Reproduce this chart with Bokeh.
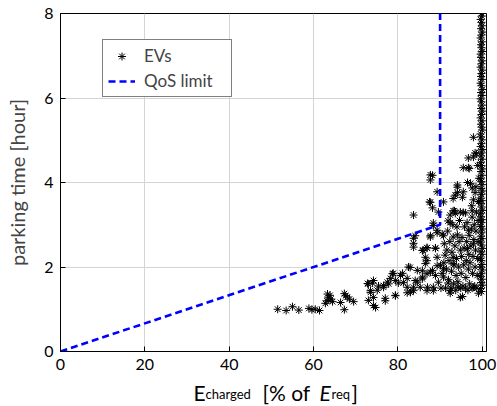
from bokeh.plotting import figure
from bokeh.layouts import column
from bokeh.models import Legend, LegendItem, FixedTicker, Range1d
from bokeh.core.properties import value
from bokeh.embed import file_html
from bokeh.resources import INLINE

# ---- data ----
ev_charged = [
    51.5, 53.5, 55.0, 56.5, 58.9, 59.6, 60.4, 61.4, 62.8, 63.2, 63.5, 63.9, 63.3, 64.1, 64.5,
    66.4, 67.3, 67.6, 68.0, 68.5, 67.3, 69.5,
    72.8, 73.0, 73.0, 73.5, 73.5, 74.0, 74.2, 74.2, 74.2, 74.7, 75.1, 75.4, 76.6, 76.6, 77.0,
    77.0, 77.5, 77.8, 78.2, 78.7, 78.9, 79.4, 79.4, 79.4, 80.1, 80.6, 81.1, 81.3, 82.2, 82.2,
    82.2, 82.5, 82.9, 83.0, 83.7, 83.7, 84.1, 84.6, 84.6, 85.3, 85.8, 85.8, 85.8, 86.5, 86.5,
    86.9, 86.9, 87.0, 87.7, 88.4, 88.9, 89.3, 89.6, 90.1, 90.8, 91.2, 91.9, 92.4, 93.1, 94.3,
    94.8, 94.8, 97.9,
    83.7, 83.7, 83.7, 83.7, 84.1, 85.8, 86.0, 86.9, 86.9, 87.7, 87.7, 88.2, 87.5, 87.7, 88.2,
    89.6, 88.4, 89.3, 87.7, 88.9, 89.3, 90.8, 90.5, 91.9, 92.4, 93.4, 94.1, 93.6, 95.5, 96.7,
    96.5, 97.2, 98.3, 96.7, 97.9, 97.6, 95.5, 94.8, 96.0, 97.6, 97.9, 96.7, 94.1, 93.1, 97.9,
    98.6, 96.9, 94.1, 95.3, 93.1, 98.3, 93.1, 95.5, 97.6, 94.1,
    90.2, 90.5, 90.9, 91.0, 91.3, 91.5, 91.6, 91.8, 92.0, 92.1, 92.3, 92.6, 92.7, 92.8, 93.0,
    93.2, 93.3, 93.5, 93.7, 93.8, 93.9, 94.0, 94.2, 94.4, 94.5, 94.6, 94.9, 95.0, 95.1, 95.2,
    95.4, 95.6, 95.7, 95.8, 96.0, 96.1, 96.2, 96.3, 96.4, 96.6, 96.7, 96.8, 96.9, 97.0, 97.1,
    97.3, 97.4, 97.5, 97.6, 97.7, 97.8, 98.0, 98.1, 98.2, 98.3, 98.4, 98.5, 98.6, 98.7, 98.8,
    98.9, 99.0, 99.0, 99.1, 99.1, 99.2, 98.9, 98.5, 95.3, 90.8, 89.3, 88.4, 87.7, 93.6, 92.4,
    88.9, 86.9, 89.3, 88.2, 90.8, 93.1, 96.5, 97.9, 92.4, 88.4,
]
ev_parking = [
    1.00, 0.97, 1.06, 0.98, 1.02, 0.99, 1.00, 0.97, 1.14, 1.20, 1.27, 1.33, 1.36, 1.24, 1.18,
    1.16, 1.37, 1.32, 1.29, 1.24, 0.99, 1.18,
    1.61, 1.21, 1.60, 1.40, 1.44, 1.62, 1.28, 1.09, 1.68, 1.04, 1.45, 1.55, 1.52, 1.56, 1.26,
    1.20, 1.64, 1.60, 1.73, 1.84, 1.85, 1.33, 1.68, 1.32, 1.62, 1.80, 1.85, 1.63, 1.73, 1.39,
    1.52, 2.00, 1.99, 1.40, 1.44, 1.52, 1.68, 1.92, 1.64, 1.52, 1.76, 1.72, 1.91, 2.08, 2.23,
    1.84, 1.44, 1.52, 1.88, 1.52, 1.80, 2.23, 1.64, 2.04, 1.76, 2.28, 1.62, 1.38, 2.23, 1.52,
    1.28, 2.40, 1.52,
    3.23, 2.68, 2.56, 2.47, 2.74, 2.39, 2.40, 2.45, 2.46, 4.18, 4.06, 4.17, 3.54, 3.53, 3.40,
    3.30, 3.04, 2.87, 2.71, 2.45, 3.78, 3.54, 2.78, 3.09, 3.23, 3.33, 3.94, 3.70, 4.35, 4.35,
    4.00, 3.98, 4.70, 4.58, 4.60, 3.87, 3.78, 3.30, 3.28, 3.18, 3.59, 2.87, 2.76, 2.71, 5.07,
    4.68, 4.33, 3.76, 3.65, 3.62, 3.76, 3.33, 3.29, 3.33, 3.89,
    1.50, 1.85, 2.10, 2.55, 1.50, 1.95, 2.40, 2.85, 1.70, 2.15, 2.60, 1.50, 1.90, 2.35, 3.00,
    1.60, 2.05, 2.50, 1.45, 1.80, 2.20, 2.95, 1.65, 2.00, 2.60, 3.10, 1.50, 1.85, 2.25, 2.70,
    1.55, 2.05, 2.45, 2.95, 1.50, 1.75, 2.15, 2.60, 3.05, 1.45, 1.95, 2.30, 2.75, 1.60, 2.10,
    2.50, 2.90, 3.45, 1.50, 1.85, 2.25, 2.65, 3.00, 1.55, 2.00, 2.40, 2.85, 3.30, 1.50, 1.80,
    2.20, 2.60, 3.10, 3.55, 1.38, 4.10, 4.40, 3.90, 1.30, 2.74, 2.81, 2.98, 2.74, 3.27, 3.05,
    2.44, 2.15, 2.03, 1.92, 1.96, 2.08, 2.44, 2.55, 1.44, 1.44,
]
# EVs that were (almost) fully charged
col_charged = [
    99.8, 99.6, 100.0, 99.7, 99.9, 99.6, 99.8, 100.0, 99.7, 99.9,
    99.8, 99.6, 99.9, 99.7, 100.0, 99.8, 99.6, 99.9, 99.7, 99.8,
    100.0, 99.6, 99.8, 99.9, 99.7, 99.6, 100.0, 99.8, 99.7, 99.9,
    99.6, 99.8, 100.0, 99.7, 99.9, 99.8, 99.6, 99.9, 99.7, 100.0,
    99.8, 99.6, 99.9, 99.7, 99.8, 100.0, 99.6, 99.8, 99.9, 99.7,
    99.6, 100.0, 99.8, 99.7, 99.9, 99.6, 99.8, 100.0, 99.7, 99.9,
    99.8, 99.6, 99.9, 99.7, 100.0, 99.8, 99.6, 99.9, 99.7, 99.8,
    100.0, 99.6, 99.8, 99.9, 99.7, 99.6, 100.0, 99.8, 99.7, 99.9,
    99.6, 99.8, 100.0, 99.7, 99.9, 99.8, 99.6, 99.9, 99.8,
]
col_parking = [
    1.42, 1.49, 1.57, 1.63, 1.71, 1.78, 1.84, 1.93, 2.00, 2.06,
    2.15, 2.21, 2.30, 2.36, 2.44, 2.52, 2.59, 2.67, 2.73, 2.81,
    2.90, 2.96, 3.05, 3.12, 3.19, 3.27, 3.34, 3.42, 3.50, 3.57,
    3.63, 3.72, 3.80, 3.86, 3.95, 4.02, 4.09, 4.17, 4.26, 4.32,
    4.40, 4.47, 4.55, 4.63, 4.70, 4.78, 4.85, 4.92, 5.01, 5.08,
    5.15, 5.24, 5.31, 5.38, 5.46, 5.53, 5.61, 5.69, 5.75, 5.83,
    5.91, 5.98, 6.06, 6.13, 6.20, 6.29, 6.35, 6.44, 6.51, 6.58,
    6.66, 6.73, 6.81, 6.88, 6.96, 7.04, 7.10, 7.19, 7.26, 7.33,
    7.42, 7.49, 7.56, 7.64, 7.71, 7.79, 7.86, 7.94, 8.00,
]
qos_x = [0, 90, 90]
qos_y = [0, 3, 8]
x_ticks = [0, 20, 40, 60, 80, 100]
y_ticks = [0, 2, 4, 6, 8]

FONT = "Lato"

p = figure(width=497, height=378, x_range=(0, 101), y_range=(0, 8),
           output_backend="svg", toolbar_location=None,
           min_border_left=60, min_border_right=11, min_border_top=13, min_border_bottom=27)
p.background_fill_color = "white"
p.border_fill_color = "white"
p.outline_line_color = "black"
p.outline_line_width = 1

p.xaxis.ticker = FixedTicker(ticks=x_ticks)
p.yaxis.ticker = FixedTicker(ticks=y_ticks)
for ax in (p.xaxis, p.yaxis):
    ax.major_label_text_font = FONT
    ax.major_label_text_font_size = "16px"
    ax.major_label_text_color = "black"
    ax.axis_line_color = "black"
    ax.major_tick_in = 5
    ax.major_tick_out = 0
    ax.minor_tick_line_color = None
    ax.major_tick_line_color = "black"
p.xaxis.major_label_standoff = 7
p.yaxis.major_label_standoff = 7
p.yaxis.axis_label = "parking time [hour]"
p.yaxis.axis_label_text_font = FONT
p.yaxis.axis_label_text_font_size = "20px"
p.yaxis.axis_label_text_font_style = "normal"
p.yaxis.axis_label_standoff = 12

p.xgrid.grid_line_color = "#d4d4d4"
p.ygrid.grid_line_color = "#d4d4d4"

ev_all_x = ev_charged + col_charged
ev_all_y = ev_parking + col_parking
r_ev = p.scatter(ev_all_x, ev_all_y, marker="asterisk", size=8,
                 line_color="black", line_width=1)
r_qos = p.line(qos_x, qos_y, line_color="#0000ff", line_width=2.6, line_dash="7 4")

legend = Legend(items=[LegendItem(label="EVs", renderers=[r_ev]),
                       LegendItem(label="QoS limit", renderers=[r_qos])],
                location=(42, 254))
legend.label_text_font = FONT
legend.label_text_font_size = "17px"
legend.border_line_color = "black"
legend.border_line_width = 1
legend.glyph_width = 27
legend.glyph_height = 20
legend.label_height = 20
legend.label_width = 82
legend.label_standoff = 9
legend.spacing = 4
legend.padding = 5
legend.margin = 0
legend.background_fill_alpha = 1
p.add_layout(legend, "center")

# x-axis title strip (text with subscripts) below the plot;
# its frame has the same left/right edges as the main plot's frame,
# so x here is in page pixels (60 .. 486)
t = figure(width=497, height=28, x_range=Range1d(60, 486), y_range=Range1d(28, 0),
           output_backend="svg", toolbar_location=None,
           x_axis_type=None, y_axis_type=None,
           min_border_left=60, min_border_right=11, min_border_top=0, min_border_bottom=0)
t.outline_line_color = None
t.grid.visible = False
t.background_fill_color = "white"
t.border_fill_color = "white"
base = 13.5
sub = 15.5
kw = dict(text_font=value(FONT), text_baseline="alphabetic", text_color="black")
t.text(x=[193], y=[base], text=["E"], text_font_size="21px", **kw)
t.text(x=[205], y=[sub], text=["charged"], text_font_size="13px", **kw)
t.text(x=[262], y=[base], text=["[% of"], text_font_size="21px", **kw)
t.text(x=[319], y=[base], text=["E"], text_font_size="21px", text_font_style="italic", **kw)
t.text(x=[331], y=[sub], text=["req"], text_font_size="13px", **kw)
t.text(x=[351], y=[base], text=["]"], text_font_size="21px", **kw)

layout = column(p, t, spacing=0)
open("out.html", "w").write(file_html(layout, INLINE))
